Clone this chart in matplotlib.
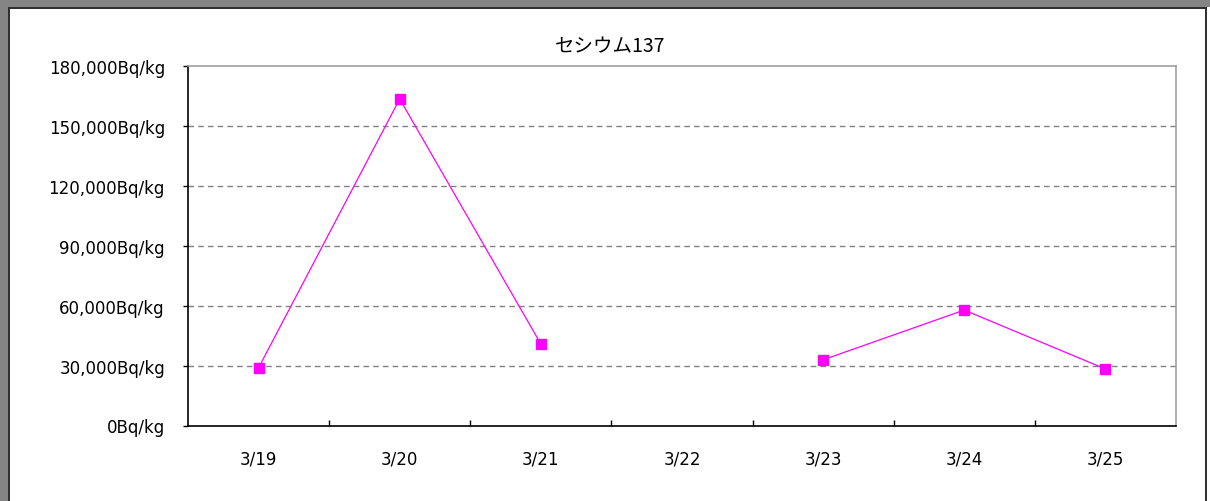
import numpy as np
import matplotlib
matplotlib.use('Agg')
import matplotlib.pyplot as plt
from matplotlib.patches import Rectangle

# data (3/22 has no value)
dates = ['3/19', '3/20', '3/21', '3/22', '3/23', '3/24', '3/25']
cs137 = [28900, 163500, 40800, np.nan, 32900, 57800, 28300]
yticks = [0, 30000, 60000, 90000, 120000, 150000, 180000]
title = 'セシウム137'

plt.rcParams['font.family'] = ['DejaVu Sans', 'Noto Sans CJK JP']

W, H = 1210, 502
fig = plt.figure(figsize=(W / 100, H / 100), dpi=100)
fig.patch.set_facecolor('white')


def fx(px):
    return px / W


def fy(py):
    return 1 - py / H


# window frame: grey band on top and left, dark line inside
fig.add_artist(Rectangle((0, fy(8)), 1, 8 / H, transform=fig.transFigure,
                         facecolor='#858585', edgecolor='none'))
fig.add_artist(Rectangle((0, 0), fx(8), 1, transform=fig.transFigure,
                         facecolor='#858585', edgecolor='none'))
fig.add_artist(Rectangle((fx(8), fy(10)), fx(1199), 2 / H, transform=fig.transFigure,
                         facecolor='#303030', edgecolor='none'))
fig.add_artist(Rectangle((fx(8), 0), 2 / W, fy(8), transform=fig.transFigure,
                         facecolor='#303030', edgecolor='none'))
fig.add_artist(Rectangle((fx(1205), 0), 2 / W, fy(8), transform=fig.transFigure,
                         facecolor='#303030', edgecolor='none'))

ax = fig.add_axes([fx(188), fy(426.5), fx(1176 - 188), (426.5 - 67) / H])
x = np.arange(len(dates))
ax.plot(x, cs137, color='#ff00ff', lw=0.9, marker='s', markersize=7,
        markeredgecolor='#ff00ff', markerfacecolor='#ff00ff', zorder=3)

ax.set_xlim(-0.5, len(dates) - 0.5)
ax.set_ylim(0, 180000)
ax.set_yticks(yticks)
ax.set_yticklabels(['{:,}Bq/kg'.format(v) for v in yticks])
for v in yticks[1:-1]:
    ax.axhline(v, color='#808080', lw=1.0, ls=(0, (4, 3)), zorder=1)

# boundaries carry the tick marks, centres carry the labels
ax.set_xticks(np.arange(0.5, len(dates) - 0.5), minor=False)
ax.set_xticklabels([])
ax.set_xticks(x, minor=True)
ax.set_xticklabels(dates, minor=True)
ax.tick_params(axis='x', which='major', direction='in', length=4, width=1, color='black')
ax.tick_params(axis='x', which='minor', length=0, pad=17, labelsize=12)
ax.tick_params(axis='y', direction='out', length=3.6, width=1, pad=13, labelsize=12)

ax.spines['left'].set_color('black')
ax.spines['bottom'].set_color('black')
ax.spines['top'].set_color('#a0a0a0')
ax.spines['right'].set_color('#a0a0a0')
for s in ax.spines.values():
    s.set_linewidth(1.2)

fig.text(fx(610), fy(47), title, ha='center', va='center', fontsize=14,
         family=['Noto Sans CJK JP', 'DejaVu Sans'])

fig.savefig('out.png', dpi=100)
